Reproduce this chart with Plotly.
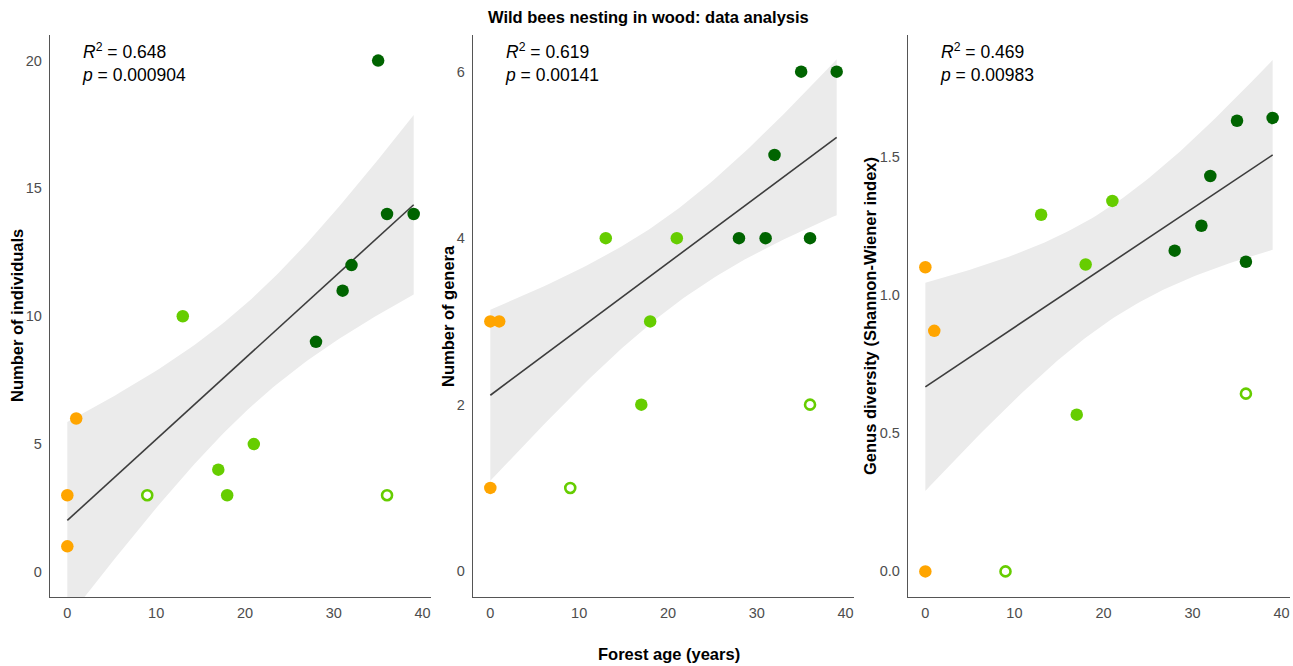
import numpy as np
import plotly.graph_objects as go

# ---------------- data ----------------
# forest age (years) per site group
age_orange = [0, 0, 1]
age_light = [13, 17, 18, 21]
age_hollow = [9, 36]
age_dark = [28, 31, 32, 35, 36, 39]

# Panel 1: number of individuals
ind_orange = [3, 1, 6]
ind_light = [10, 4, 3, 5]
ind_hollow = [3, 3]
ind_dark = [9, 11, 12, 20, 14, 14]

# Panel 2: number of genera
gen_orange = [3, 1, 3]
gen_light = [4, 2, 3, 4]
gen_hollow = [1, 2]
gen_dark = [4, 4, 5, 6, 4, 6]

# Panel 3: Shannon-Wiener index
sh_orange = [1.10, 0.0, 0.87]
sh_light = [1.29, 0.567, 1.11, 1.34]
sh_hollow = [0.0, 0.643]
sh_dark = [1.16, 1.25, 1.43, 1.63, 1.12, 1.64]

stats_text = [("0.648", "0.000904"), ("0.619", "0.00141"), ("0.469", "0.00983")]
y_titles = ["Number of individuals", "Number of genera",
            "Genus diversity (Shannon-Wiener index)"]
y_ranges = [[-0.98, 21.0], [-0.31, 6.44], [-0.0925, 1.94]]
y_ticks = [[0, 5, 10, 15, 20], [0, 2, 4, 6], [0.0, 0.5, 1.0, 1.5]]
y_ticktext = [["0", "5", "10", "15", "20"], ["0", "2", "4", "6"],
              ["0.0", "0.5", "1.0", "1.5"]]
x_ticks = [0, 10, 20, 30, 40]

T_CRIT = 2.201  # t(0.975, df=11)

ORANGE = "#FFA500"
LIGHT = "#66CD00"
DARK = "#006400"
FONT = "Liberation Sans, Arial, sans-serif"

panels = [
    (ind_orange, ind_light, ind_hollow, ind_dark),
    (gen_orange, gen_light, gen_hollow, gen_dark),
    (sh_orange, sh_light, sh_hollow, sh_dark),
]

W, H = 1293, 666
T, B = 35, 69
PH = H - T - B
x_domains = [[50 / W, 431 / W], [473 / W, 854 / W], [908 / W, 1290 / W]]
ytitle_px = [17, 448, 870]

fig = go.Figure()

for i, (yo, yl, yh, yd) in enumerate(panels):
    xa = "x" if i == 0 else f"x{i+1}"
    ya = "y" if i == 0 else f"y{i+1}"
    # fit on filled points
    xf = np.array(age_orange + age_light + age_dark, dtype=float)
    yf = np.array(yo + yl + yd, dtype=float)
    n = len(xf)
    slope, intercept = np.polyfit(xf, yf, 1)
    resid = yf - (slope * xf + intercept)
    s = np.sqrt(np.sum(resid ** 2) / (n - 2))
    xbar = xf.mean()
    sxx = np.sum((xf - xbar) ** 2)
    xs = np.linspace(xf.min(), xf.max(), 80)
    fit = slope * xs + intercept
    se = s * np.sqrt(1 / n + (xs - xbar) ** 2 / sxx)
    up = fit + T_CRIT * se
    lo = fit - T_CRIT * se
    fig.add_trace(go.Scatter(
        x=np.concatenate([xs, xs[::-1]]), y=np.concatenate([up, lo[::-1]]),
        fill="toself", fillcolor="#EBEBEB", line=dict(width=0),
        mode="lines", hoverinfo="skip", showlegend=False, xaxis=xa, yaxis=ya))
    fig.add_trace(go.Scatter(
        x=xs, y=fit, mode="lines", line=dict(color="#3D3D3D", width=1.6),
        showlegend=False, xaxis=xa, yaxis=ya))
    for xx, yy, col in [(age_orange, yo, ORANGE), (age_light, yl, LIGHT),
                        (age_dark, yd, DARK)]:
        fig.add_trace(go.Scatter(
            x=xx, y=yy, mode="markers",
            marker=dict(color=col, size=12.5, line=dict(width=0)),
            showlegend=False, xaxis=xa, yaxis=ya, cliponaxis=False))
    fig.add_trace(go.Scatter(
        x=age_hollow, y=yh, mode="markers",
        marker=dict(color="white", size=10, line=dict(color=LIGHT, width=2.6)),
        showlegend=False, xaxis=xa, yaxis=ya, cliponaxis=False))

    axis_common = dict(showline=True, linecolor="#555555", linewidth=1.3,
                       showgrid=False, zeroline=False, ticks="",
                       tickfont=dict(family=FONT, size=14.5, color="#4D4D4D"))
    xkey = "xaxis" if i == 0 else f"xaxis{i+1}"
    ykey = "yaxis" if i == 0 else f"yaxis{i+1}"
    fig.update_layout(**{
        xkey: dict(domain=x_domains[i], range=[-1.95, 40.95], anchor=ya,
                   tickvals=x_ticks, ticklabelstandoff=2, **axis_common),
        ykey: dict(domain=[0, 1], range=y_ranges[i], anchor=xa,
                   tickvals=y_ticks[i], ticktext=y_ticktext[i],
                   ticklabelstandoff=4, **axis_common),
    })
    # y-axis title
    fig.add_annotation(
        xref="paper", yref="paper", x=ytitle_px[i] / W, y=0.5,
        xanchor="center", yanchor="middle", textangle=-90, showarrow=False,
        text=f"<b>{y_titles[i]}</b>",
        font=dict(family=FONT, size=16.5, color="black"))
    r2, p = stats_text[i]
    fig.add_annotation(
        xref=f"{xa} domain", yref=f"{ya} domain",
        x=(1.4 + 1.95) / 42.9, y=1, xanchor="left", yanchor="top", yshift=-3,
        text=f"<i>R</i><sup>2</sup> = {r2}<br><i>p</i> = {p}",
        showarrow=False, align="left",
        font=dict(family=FONT, size=17.5, color="black"))

fig.add_annotation(xref="paper", yref="paper", x=648 / W, y=1 + (T - 17) / PH,
                   xanchor="center", yanchor="middle", showarrow=False,
                   text="<b>Wild bees nesting in wood: data analysis</b>",
                   font=dict(family=FONT, size=16.5, color="black"))
fig.add_annotation(xref="paper", yref="paper", x=669 / W,
                   y=-(654 - (H - B)) / PH,
                   xanchor="center", yanchor="middle", showarrow=False,
                   text="<b>Forest age (years)</b>",
                   font=dict(family=FONT, size=16.5, color="black"))

fig.update_layout(
    width=W, height=H, autosize=False,
    margin=dict(l=0, r=0, t=T, b=B, autoexpand=False),
    paper_bgcolor="white", plot_bgcolor="white",
    font=dict(family=FONT),
    showlegend=False,
)
for k in ["yaxis", "yaxis2", "yaxis3", "xaxis", "xaxis2", "xaxis3"]:
    fig.layout[k].automargin = False

fig.write_html("out.html")
